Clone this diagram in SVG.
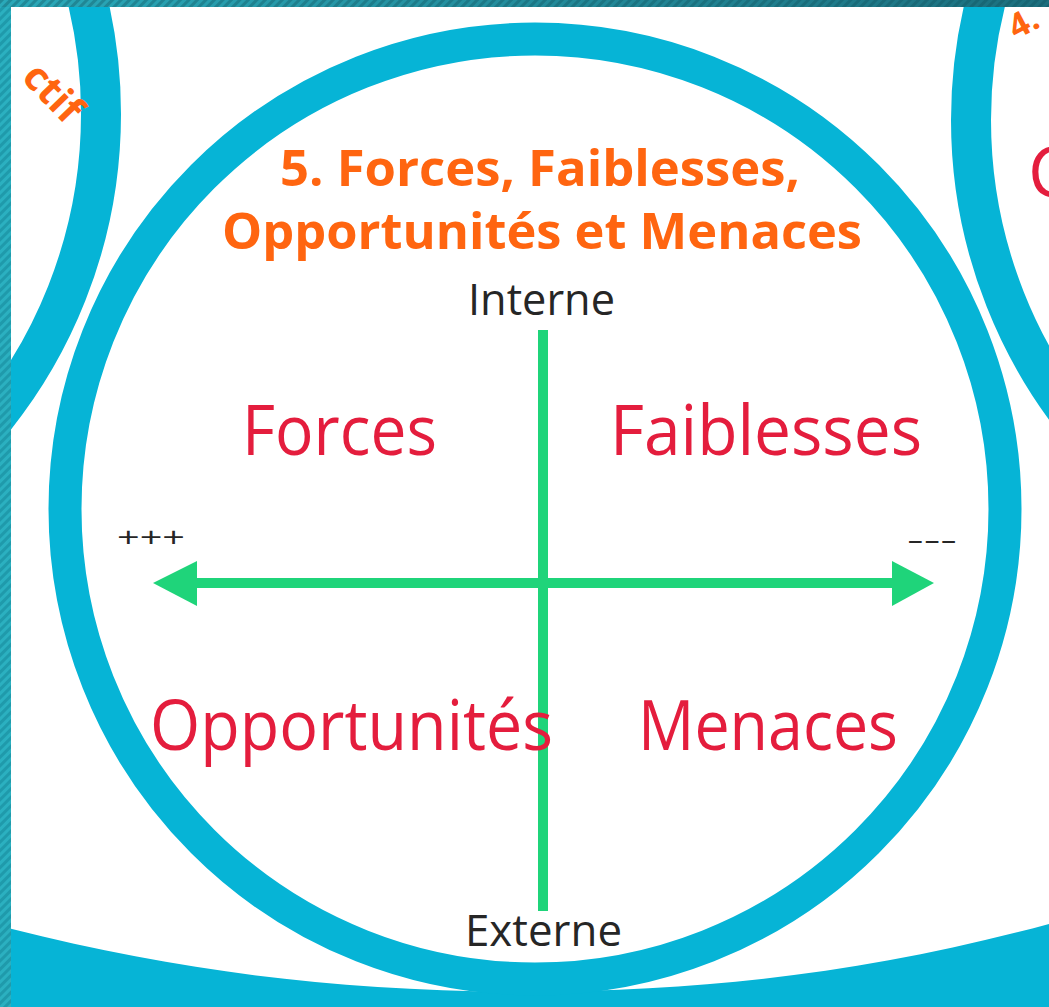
<svg xmlns="http://www.w3.org/2000/svg" width="1049" height="1007" viewBox="0 0 1049 1007">
  <defs>
    <style>
      .ring { fill: none; stroke: #06b4d6; }
      .teal { fill: #06b4d6; }
      .title { font-family: "Open Sans", "Liberation Sans", sans-serif; font-weight: 700; fill: #ff6510; }
      .quad { font-family: "Open Sans", "Liberation Sans", sans-serif; font-weight: 400; fill: #e41d3d; }
      .axis-label { font-family: "Open Sans", "Liberation Sans", sans-serif; font-weight: 400; fill: #262626; }
      .axis { stroke: #1fd47a; stroke-width: 10; fill: none; }
      .head { fill: #1fd47a; }
    </style>
    <clipPath id="frame">
      <rect x="11" y="7" width="1038" height="1000"/>
    </clipPath>
    <pattern id="stripes" width="6" height="6" patternUnits="userSpaceOnUse" patternTransform="rotate(45)">
      <rect width="6" height="6" fill="#2bb0c0"/>
      <rect width="3" height="6" fill="#1f9aab"/>
    </pattern>
    <pattern id="stripesDark" width="6" height="6" patternUnits="userSpaceOnUse" patternTransform="rotate(45)">
      <rect width="6" height="6" fill="#000" fill-opacity="0"/>
      <rect width="3" height="6" fill="#0d4f5a" fill-opacity="0.35"/>
    </pattern>
    <linearGradient id="topBand" x1="0" y1="0" x2="1" y2="0">
      <stop offset="0" stop-color="#2aa9b9"/>
      <stop offset="1" stop-color="#1c6f7e"/>
    </linearGradient>
  </defs>

  <!-- page -->
  <rect width="1049" height="1007" fill="#ffffff"/>

  <g clip-path="url(#frame)">
    <!-- neighbouring circle, left -->
    <g id="node-left">
      <circle class="ring" cx="-386" cy="114" r="487" stroke-width="40"/>
      <text class="title" font-size="40" transform="translate(66,126) rotate(46)" text-anchor="end">ctif</text>
    </g>

    <!-- neighbouring circle, right -->
    <g id="node-right">
      <circle class="ring" cx="1458" cy="120" r="487" stroke-width="40"/>
      <text class="title" font-size="34" transform="translate(1016,40) rotate(-28)">4.</text>
      <text class="quad" font-size="70" x="1028" y="197">C</text>
    </g>

    <!-- lower band -->
    <g id="node-bottom">
      <path class="teal" d="M 0 926 C 180 972 330 990 525 992 C 720 990 870 972 1049 924 L 1049 1007 L 0 1007 Z"/>
    </g>

    <!-- SWOT circle -->
    <g id="node-swot">
      <circle class="ring" cx="535" cy="509" r="470" stroke-width="33"/>
      <text class="title" font-size="50" x="280" y="186" textLength="520" lengthAdjust="spacingAndGlyphs">5. Forces, Faiblesses,</text>
      <text class="title" font-size="50" x="222" y="249" textLength="640" lengthAdjust="spacingAndGlyphs">Opportunités et Menaces</text>
    </g>

    <!-- axes -->
    <g id="connectors">
      <line class="axis" x1="543" y1="330" x2="543" y2="911"/>
      <line class="axis" x1="190" y1="583" x2="898" y2="583"/>
      <polygon class="head" points="153,583 197,561 197,606"/>
      <polygon class="head" points="934,583 892,561 892,606"/>
    </g>

    <g id="label-interne">
      <text class="axis-label" font-size="44" x="468" y="315" textLength="147" lengthAdjust="spacingAndGlyphs">Interne</text>
    </g>
    <g id="label-externe">
      <text class="axis-label" font-size="44" x="465" y="946" textLength="157" lengthAdjust="spacingAndGlyphs">Externe</text>
    </g>
    <g id="label-plus">
      <text class="axis-label" font-size="28" x="117" y="547" textLength="68" lengthAdjust="spacingAndGlyphs">+++</text>
    </g>
    <g id="label-minus">
      <text class="axis-label" font-size="28" x="907" y="549" textLength="50" lengthAdjust="spacingAndGlyphs">---</text>
    </g>

    <g id="node-forces">
      <text class="quad" font-size="70" x="242" y="455" textLength="195" lengthAdjust="spacingAndGlyphs">Forces</text>
    </g>
    <g id="node-faiblesses">
      <text class="quad" font-size="70" x="610" y="455" textLength="312" lengthAdjust="spacingAndGlyphs">Faiblesses</text>
    </g>
    <g id="node-opportunites">
      <text class="quad" font-size="70" x="150" y="750" textLength="403" lengthAdjust="spacingAndGlyphs">Opportunités</text>
    </g>
    <g id="node-menaces">
      <text class="quad" font-size="70" x="638" y="750" textLength="260" lengthAdjust="spacingAndGlyphs">Menaces</text>
    </g>
  </g>

  <!-- striped frame -->
  <rect x="0" y="0" width="11" height="1007" fill="url(#stripes)"/>
  <rect x="0" y="0" width="1049" height="7" fill="url(#topBand)"/>
  <rect x="0" y="0" width="1049" height="7" fill="url(#stripesDark)"/>
</svg>
